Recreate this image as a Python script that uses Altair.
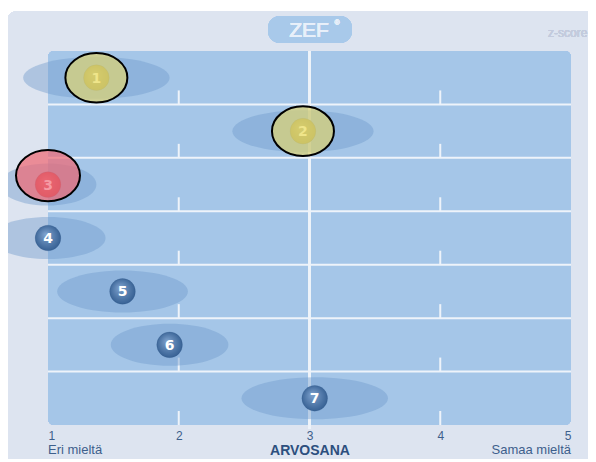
import altair as alt
import pandas as pd

# ---- data ----
items = [1, 2, 3, 4, 5, 6, 7]
means = [1.37, 2.95, 1.0, 1.0, 1.57, 1.93, 3.04]
spreads = [0.56, 0.54, 0.37, 0.44, 0.50, 0.45, 0.56]
status = ["yellow", "yellow", "red", "normal", "normal", "normal", "normal"]
tick_values = [1, 2, 3, 4, 5]
end_labels = ["Eri mieltä", "Samaa mieltä"]
axis_title = "ARVOSANA"

W, H = 523, 374
PX = W / 4.0  # pixels per scale unit (for the ellipse path ratio)


def ellipse_path(ry):
    k = 0.5523
    return (f"M-1,0 C-1,{-k*ry:.4f} {-k:.4f},{-ry:.4f} 0,{-ry:.4f} "
            f"C{k:.4f},{-ry:.4f} 1,{-k*ry:.4f} 1,0 "
            f"C1,{k*ry:.4f} {k:.4f},{ry:.4f} 0,{ry:.4f} "
            f"C{-k:.4f},{ry:.4f} -1,{k*ry:.4f} -1,0 Z")


df = pd.DataFrame({
    "item": items,
    "mean": means,
    "spread": spreads,
    "status": status,
})
df["row"] = df["item"] - 0.5
df["label"] = df["item"].astype(str)
df["shape"] = [ellipse_path(21.0 / (s * PX)) for s in spreads]

rows_df = pd.DataFrame({"yb": list(range(1, 8))})
ticks_df = pd.DataFrame([(x, y) for x in [2, 4] for y in range(1, 8)], columns=["xt", "yb"])
sep_df = pd.DataFrame({"yb": list(range(1, 7))})
ends_df = pd.DataFrame({"x": [1, 5], "text": end_labels})

xscale = alt.Scale(domain=[1, 5], nice=False, zero=False)
yscale = alt.Scale(domain=[0, 7], reverse=True, nice=False, zero=False)

xaxis = alt.Axis(values=tick_values, labelFlush=True, domain=False, ticks=False, grid=False,
                 labelColor="#3d5f8c", labelFontSize=12, labelPadding=5, labelFont="Liberation Sans",
                 title=axis_title, titleFontWeight="bold", titleFontSize=14, titleColor="#2c4f7e",
                 titlePadding=2, titleFont="Liberation Sans", format="d", zindex=2)

base = alt.Chart(df)

# background panel
bg = alt.Chart(rows_df).mark_rect(color="#dde4f0", cornerRadius=10).encode(
    x=alt.value(-41), x2=alt.value(620), y=alt.value(-40), y2=alt.value(440))

# band area
band = alt.Chart(rows_df).mark_rect(color="#a5c6e8", cornerRadius=6).encode(
    x=alt.datum(1, scale=xscale, axis=xaxis, type="quantitative"),
    x2=alt.datum(5),
    y=alt.datum(0, scale=yscale, axis=None, type="quantitative"),
    y2=alt.datum(7))

seps = alt.Chart(sep_df).mark_rule(color="#eef3fa", strokeWidth=2).encode(
    x=alt.datum(1), x2=alt.datum(5), y=alt.Y("yb:Q", scale=yscale, axis=None))

vline = alt.Chart(rows_df).mark_rule(color="#eef3fa", strokeWidth=2, y2Offset=4).encode(
    x=alt.datum(3), y=alt.datum(0), y2=alt.datum(7))

short_ticks = alt.Chart(ticks_df).mark_rule(color="#eef3fa", strokeWidth=2, y2Offset=-14).encode(
    x=alt.X("xt:Q", scale=xscale), y=alt.Y("yb:Q", scale=yscale), y2="yb:Q")

# spread ellipses
ell = base.mark_point(filled=True, color="#6d99ca", opacity=0.42, strokeWidth=0).encode(
    x=alt.X("mean:Q", scale=xscale),
    y=alt.Y("row:Q", scale=yscale),
    size=alt.Size("spread:Q", scale=alt.Scale(type="pow", exponent=2, domain=[0, 1],
                                              range=[0, (2 * PX) ** 2]), legend=None),
    shape=alt.Shape("shape:N", scale=None))


def grad(c0, c1):
    return {"gradient": "radial", "x1": 0.4, "y1": 0.35, "r1": 0.0,
            "x2": 0.5, "y2": 0.5, "r2": 0.62,
            "stops": [{"offset": 0, "color": c0}, {"offset": 1, "color": c1}]}


def balls(st, c0, c1):
    return base.transform_filter(alt.datum.status == st).mark_circle(
        size=660, opacity=1, fill=grad(c0, c1), stroke="#2a4f80", strokeWidth=0.5,
        strokeOpacity=0.4).encode(
        x=alt.X("mean:Q", scale=xscale), y=alt.Y("row:Q", scale=yscale))


ball_blue = balls("normal", "#7fa3cf", "#2a5589")
ball_yel = balls("yellow", "#c4bc5e", "#9c9438")
ball_red = balls("red", "#e0606e", "#b8303f")

hl_path = ellipse_path(0.8)
hl_yel = base.transform_filter(alt.datum.status == "yellow").mark_point(
    filled=True, fill="#dcd275", fillOpacity=0.72, stroke="black", strokeWidth=2,
    strokeOpacity=1, size=62 ** 2, shape=hl_path, opacity=1).encode(
    x=alt.X("mean:Q", scale=xscale), y=alt.Y("row:Q", scale=yscale))
hl_red = base.transform_filter(alt.datum.status == "red").mark_point(
    filled=True, fill="#ee6a75", fillOpacity=0.72, stroke="black", strokeWidth=2,
    strokeOpacity=1, size=64 ** 2, shape=hl_path, opacity=1, yOffset=-9).encode(
    x=alt.X("mean:Q", scale=xscale), y=alt.Y("row:Q", scale=yscale))

nums = base.mark_text(font="DejaVu Sans", fontWeight="bold", fontSize=14, baseline="middle",
                      align="center", dy=1).encode(
    x=alt.X("mean:Q", scale=xscale), y=alt.Y("row:Q", scale=yscale), text="label:N",
    color=alt.Color("status:N", scale=alt.Scale(domain=["normal", "yellow", "red"],
                                                range=["#ffffff", "#efe58a", "#f59aa4"]),
                    legend=None))

ends_l = alt.Chart(ends_df).transform_filter(alt.datum.x == 1).mark_text(
    font="Liberation Sans", fontSize=13, color="#3d5f8c", baseline="middle", align="left").encode(
    x=alt.X("x:Q", scale=xscale), y=alt.value(399), text="text:N")
ends_r = alt.Chart(ends_df).transform_filter(alt.datum.x == 5).mark_text(
    font="Liberation Sans", fontSize=13, color="#3d5f8c", baseline="middle", align="right").encode(
    x=alt.X("x:Q", scale=xscale), y=alt.value(399), text="text:N")

badge = alt.Chart(rows_df).mark_rect(color="#a8c9ea", cornerRadius=12).encode(
    x=alt.value(220), x2=alt.value(304), y=alt.value(-35), y2=alt.value(-8))
zef = alt.Chart(rows_df).mark_text(text="ZEF", font="Liberation Sans", fontSize=21,
                                   color="#e8f0fa", baseline="middle", align="center").encode(
    x=alt.value(261), y=alt.value(-20))
reg = alt.Chart(rows_df).mark_text(text="®", font="Liberation Sans", fontSize=7,
                                   color="#e8f0fa", baseline="middle", align="center").encode(
    x=alt.value(289), y=alt.value(-28))
zscore = alt.Chart(rows_df).mark_text(text="z-score", font="Liberation Sans", fontSize=12,
                                      color="#c3cbdd", baseline="middle", align="left").encode(
    x=alt.value(500), y=alt.value(-18))

chart = alt.layer(
    bg, band, seps, vline, short_ticks, ell, ball_blue, ball_yel, ball_red,
    hl_yel, hl_red, nums, ends_l, ends_r, badge, zef, reg, zscore
).properties(
    width=W, height=H,
    autosize=alt.AutoSizeParams(type="none"),
    padding={"left": 40, "top": 43, "right": 17, "bottom": 34},
    background="white",
).configure_view(stroke=None)

chart.save("out.html", embed_options={"renderer": "svg", "actions": False})
